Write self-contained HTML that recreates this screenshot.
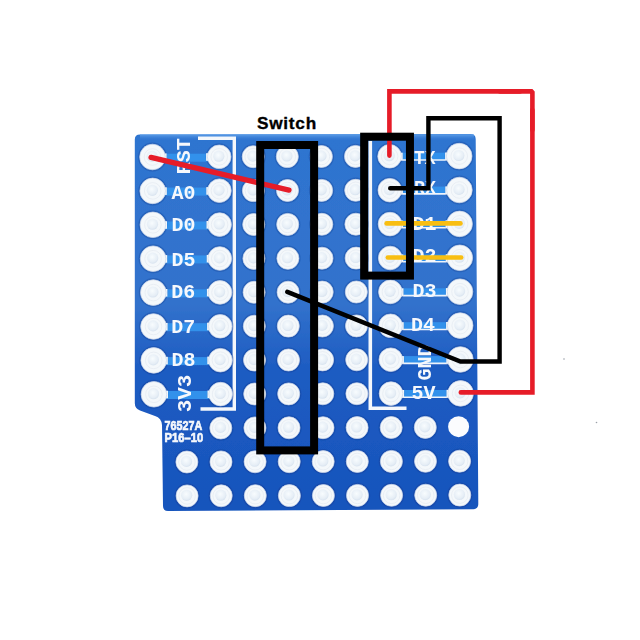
<!DOCTYPE html><html><head><meta charset="utf-8"><style>html,body{margin:0;padding:0;background:#fff;width:640px;height:640px;overflow:hidden}svg{display:block}text{font-family:"Liberation Sans",sans-serif;font-weight:bold}</style></head><body>
<svg width="640" height="640" viewBox="0 0 640 640">
<defs><radialGradient id="hole" cx="0.45" cy="0.4" r="0.6"><stop offset="0" stop-color="#f8fcfe"/><stop offset="0.75" stop-color="#e6eef6"/><stop offset="1" stop-color="#d8e3ef"/></radialGradient><linearGradient id="bg" gradientUnits="userSpaceOnUse" x1="0" y1="134" x2="0" y2="511"><stop offset="0" stop-color="#2e74d0"/><stop offset="0.45" stop-color="#3272cc"/><stop offset="0.62" stop-color="#1e5cc2"/><stop offset="1" stop-color="#1654bc"/></linearGradient><linearGradient id="edge" gradientUnits="userSpaceOnUse" x1="0" y1="134" x2="0" y2="141"><stop offset="0" stop-color="#6aaaf0" stop-opacity="0.9"/><stop offset="1" stop-color="#2e74d0" stop-opacity="0"/></linearGradient><filter id="soft" x="0" y="0" width="1" height="1"><feGaussianBlur stdDeviation="0.45"/></filter></defs>
<rect width="640" height="640" fill="#fff"/>
<g filter="url(#soft)">
<path d="M140 134.5 L470.5 134 Q475.5 134 475.7 139 L478.3 504 Q478.3 509 473.3 509.2 L168 511 Q163 511 163 506 L162 425 Q161.5 418 155 416 L140 410.5 Q134.8 408.5 134.8 403 L134.8 139.5 Q134.8 134.5 140 134.5Z" fill="url(#bg)"/>
<rect x="140" y="134.3" width="334" height="7" fill="url(#edge)"/>
<rect x="151.0" y="153.7" width="68.2" height="8" fill="#3291eb"/>
<rect x="389.6" y="152.7" width="68.2" height="7.5" fill="#3291eb"/>
<line x1="389.6" y1="160.0" x2="457.7" y2="160.0" stroke="#eef4fc" stroke-width="1.6"/>
<rect x="151.2" y="187.6" width="68.2" height="8" fill="#3291eb"/>
<rect x="389.8" y="186.6" width="68.2" height="7.5" fill="#3291eb"/>
<line x1="389.8" y1="193.9" x2="457.9" y2="193.9" stroke="#eef4fc" stroke-width="1.6"/>
<rect x="151.4" y="221.5" width="68.2" height="8" fill="#3291eb"/>
<rect x="390.0" y="220.5" width="68.2" height="7.5" fill="#3291eb"/>
<line x1="390.0" y1="227.8" x2="458.1" y2="227.8" stroke="#eef4fc" stroke-width="1.6"/>
<rect x="151.6" y="255.4" width="68.2" height="8" fill="#3291eb"/>
<rect x="390.2" y="254.4" width="68.2" height="7.5" fill="#3291eb"/>
<line x1="390.2" y1="261.7" x2="458.3" y2="261.7" stroke="#eef4fc" stroke-width="1.6"/>
<rect x="151.8" y="289.3" width="68.2" height="8" fill="#3291eb"/>
<rect x="390.4" y="288.3" width="68.2" height="7.5" fill="#3291eb"/>
<line x1="390.4" y1="295.6" x2="458.5" y2="295.6" stroke="#eef4fc" stroke-width="1.6"/>
<rect x="152.0" y="323.2" width="68.2" height="8" fill="#3291eb"/>
<rect x="390.6" y="322.2" width="68.2" height="7.5" fill="#3291eb"/>
<line x1="390.6" y1="329.5" x2="458.7" y2="329.5" stroke="#eef4fc" stroke-width="1.6"/>
<rect x="152.2" y="357.1" width="68.2" height="8" fill="#3291eb"/>
<rect x="390.8" y="356.1" width="68.2" height="7.5" fill="#3291eb"/>
<line x1="390.8" y1="363.4" x2="458.9" y2="363.4" stroke="#eef4fc" stroke-width="1.6"/>
<rect x="152.4" y="391.0" width="68.2" height="8" fill="#3291eb"/>
<rect x="391.0" y="390.0" width="68.2" height="7.5" fill="#3291eb"/>
<line x1="391.0" y1="397.3" x2="459.1" y2="397.3" stroke="#eef4fc" stroke-width="1.6"/>
<path d="M198 138.2 H234.3 V409 H200.5" fill="none" stroke="#f4f7fb" stroke-width="3.4"/>
<path d="M370.3 141 V408.3 H406.5" fill="none" stroke="#f4f7fb" stroke-width="3.6"/>
<circle cx="152.5" cy="157.0" r="13.7" fill="none" stroke="#0a2a78" stroke-opacity="0.22" stroke-width="1.6"/>
<rect x="160.3" y="153.4" width="6.3" height="7.6" fill="#f4f8fb"/>
<circle cx="152.5" cy="157.0" r="12.8" fill="#f4f8fb" stroke="#cdd6e6" stroke-width="0.7"/>
<circle cx="152.5" cy="157.0" r="8.3" fill="none" stroke="#e4e9f1" stroke-width="0.7"/>
<circle cx="152.1" cy="156.4" r="5.6" fill="url(#hole)"/>
<circle cx="219.2" cy="156.8" r="12.7" fill="none" stroke="#0a2a78" stroke-opacity="0.22" stroke-width="1.6"/>
<rect x="206.1" y="153.2" width="6.3" height="7.6" fill="#f4f8fb"/>
<circle cx="219.2" cy="156.8" r="11.8" fill="#f4f8fb" stroke="#cdd6e6" stroke-width="0.7"/>
<circle cx="219.2" cy="156.8" r="8.3" fill="none" stroke="#e4e9f1" stroke-width="0.7"/>
<circle cx="218.8" cy="156.2" r="5.6" fill="url(#hole)"/>
<circle cx="253.2" cy="156.7" r="11.9" fill="none" stroke="#0a2a78" stroke-opacity="0.22" stroke-width="1.6"/>
<circle cx="253.2" cy="156.7" r="11.0" fill="#f4f8fb" stroke="#cdd6e6" stroke-width="0.7"/>
<circle cx="253.2" cy="156.7" r="8.3" fill="none" stroke="#e4e9f1" stroke-width="0.7"/>
<circle cx="252.8" cy="156.1" r="5.6" fill="url(#hole)"/>
<circle cx="287.3" cy="156.6" r="11.9" fill="none" stroke="#0a2a78" stroke-opacity="0.22" stroke-width="1.6"/>
<circle cx="287.3" cy="156.6" r="11.0" fill="#f4f8fb" stroke="#cdd6e6" stroke-width="0.7"/>
<circle cx="287.3" cy="156.6" r="8.3" fill="none" stroke="#e4e9f1" stroke-width="0.7"/>
<circle cx="286.9" cy="156.0" r="5.6" fill="url(#hole)"/>
<circle cx="321.4" cy="156.5" r="11.9" fill="none" stroke="#0a2a78" stroke-opacity="0.22" stroke-width="1.6"/>
<circle cx="321.4" cy="156.5" r="11.0" fill="#f4f8fb" stroke="#cdd6e6" stroke-width="0.7"/>
<circle cx="321.4" cy="156.5" r="8.3" fill="none" stroke="#e4e9f1" stroke-width="0.7"/>
<circle cx="321.0" cy="155.9" r="5.6" fill="url(#hole)"/>
<circle cx="355.5" cy="156.4" r="11.9" fill="none" stroke="#0a2a78" stroke-opacity="0.22" stroke-width="1.6"/>
<circle cx="355.5" cy="156.4" r="11.0" fill="#f4f8fb" stroke="#cdd6e6" stroke-width="0.7"/>
<circle cx="355.5" cy="156.4" r="8.3" fill="none" stroke="#e4e9f1" stroke-width="0.7"/>
<circle cx="355.1" cy="155.8" r="5.6" fill="url(#hole)"/>
<circle cx="389.6" cy="156.3" r="12.7" fill="none" stroke="#0a2a78" stroke-opacity="0.22" stroke-width="1.6"/>
<rect x="396.4" y="152.7" width="6.3" height="7.6" fill="#f4f8fb"/>
<circle cx="389.6" cy="156.3" r="11.8" fill="#f4f8fb" stroke="#cdd6e6" stroke-width="0.7"/>
<circle cx="389.6" cy="156.3" r="8.3" fill="none" stroke="#e4e9f1" stroke-width="0.7"/>
<circle cx="389.2" cy="155.7" r="5.6" fill="url(#hole)"/>
<circle cx="459.2" cy="156.1" r="13.7" fill="none" stroke="#0a2a78" stroke-opacity="0.22" stroke-width="1.6"/>
<rect x="445.1" y="152.5" width="6.3" height="7.6" fill="#f4f8fb"/>
<circle cx="459.2" cy="156.1" r="12.8" fill="#f4f8fb" stroke="#cdd6e6" stroke-width="0.7"/>
<circle cx="459.2" cy="156.1" r="8.3" fill="none" stroke="#e4e9f1" stroke-width="0.7"/>
<circle cx="458.8" cy="155.5" r="5.6" fill="url(#hole)"/>
<circle cx="152.7" cy="190.9" r="13.7" fill="none" stroke="#0a2a78" stroke-opacity="0.22" stroke-width="1.6"/>
<rect x="160.5" y="187.3" width="6.3" height="7.6" fill="#f4f8fb"/>
<circle cx="152.7" cy="190.9" r="12.8" fill="#f4f8fb" stroke="#cdd6e6" stroke-width="0.7"/>
<circle cx="152.7" cy="190.9" r="8.3" fill="none" stroke="#e4e9f1" stroke-width="0.7"/>
<circle cx="152.3" cy="190.3" r="5.6" fill="url(#hole)"/>
<circle cx="219.4" cy="190.7" r="12.7" fill="none" stroke="#0a2a78" stroke-opacity="0.22" stroke-width="1.6"/>
<rect x="206.3" y="187.1" width="6.3" height="7.6" fill="#f4f8fb"/>
<circle cx="219.4" cy="190.7" r="11.8" fill="#f4f8fb" stroke="#cdd6e6" stroke-width="0.7"/>
<circle cx="219.4" cy="190.7" r="8.3" fill="none" stroke="#e4e9f1" stroke-width="0.7"/>
<circle cx="219.0" cy="190.1" r="5.6" fill="url(#hole)"/>
<circle cx="253.4" cy="190.6" r="11.9" fill="none" stroke="#0a2a78" stroke-opacity="0.22" stroke-width="1.6"/>
<circle cx="253.4" cy="190.6" r="11.0" fill="#f4f8fb" stroke="#cdd6e6" stroke-width="0.7"/>
<circle cx="253.4" cy="190.6" r="8.3" fill="none" stroke="#e4e9f1" stroke-width="0.7"/>
<circle cx="253.0" cy="190.0" r="5.6" fill="url(#hole)"/>
<circle cx="287.5" cy="190.5" r="11.9" fill="none" stroke="#0a2a78" stroke-opacity="0.22" stroke-width="1.6"/>
<circle cx="287.5" cy="190.5" r="11.0" fill="#f4f8fb" stroke="#cdd6e6" stroke-width="0.7"/>
<circle cx="287.5" cy="190.5" r="8.3" fill="none" stroke="#e4e9f1" stroke-width="0.7"/>
<circle cx="287.1" cy="189.9" r="5.6" fill="url(#hole)"/>
<circle cx="321.6" cy="190.4" r="11.9" fill="none" stroke="#0a2a78" stroke-opacity="0.22" stroke-width="1.6"/>
<circle cx="321.6" cy="190.4" r="11.0" fill="#f4f8fb" stroke="#cdd6e6" stroke-width="0.7"/>
<circle cx="321.6" cy="190.4" r="8.3" fill="none" stroke="#e4e9f1" stroke-width="0.7"/>
<circle cx="321.2" cy="189.8" r="5.6" fill="url(#hole)"/>
<circle cx="355.7" cy="190.3" r="11.9" fill="none" stroke="#0a2a78" stroke-opacity="0.22" stroke-width="1.6"/>
<circle cx="355.7" cy="190.3" r="11.0" fill="#f4f8fb" stroke="#cdd6e6" stroke-width="0.7"/>
<circle cx="355.7" cy="190.3" r="8.3" fill="none" stroke="#e4e9f1" stroke-width="0.7"/>
<circle cx="355.3" cy="189.7" r="5.6" fill="url(#hole)"/>
<circle cx="389.8" cy="190.2" r="12.7" fill="none" stroke="#0a2a78" stroke-opacity="0.22" stroke-width="1.6"/>
<rect x="396.6" y="186.6" width="6.3" height="7.6" fill="#f4f8fb"/>
<circle cx="389.8" cy="190.2" r="11.8" fill="#f4f8fb" stroke="#cdd6e6" stroke-width="0.7"/>
<circle cx="389.8" cy="190.2" r="8.3" fill="none" stroke="#e4e9f1" stroke-width="0.7"/>
<circle cx="389.4" cy="189.6" r="5.6" fill="url(#hole)"/>
<circle cx="459.4" cy="190.0" r="13.7" fill="none" stroke="#0a2a78" stroke-opacity="0.22" stroke-width="1.6"/>
<rect x="445.3" y="186.4" width="6.3" height="7.6" fill="#f4f8fb"/>
<circle cx="459.4" cy="190.0" r="12.8" fill="#f4f8fb" stroke="#cdd6e6" stroke-width="0.7"/>
<circle cx="459.4" cy="190.0" r="8.3" fill="none" stroke="#e4e9f1" stroke-width="0.7"/>
<circle cx="459.0" cy="189.4" r="5.6" fill="url(#hole)"/>
<circle cx="152.9" cy="224.8" r="13.7" fill="none" stroke="#0a2a78" stroke-opacity="0.22" stroke-width="1.6"/>
<rect x="160.7" y="221.2" width="6.3" height="7.6" fill="#f4f8fb"/>
<circle cx="152.9" cy="224.8" r="12.8" fill="#f4f8fb" stroke="#cdd6e6" stroke-width="0.7"/>
<circle cx="152.9" cy="224.8" r="8.3" fill="none" stroke="#e4e9f1" stroke-width="0.7"/>
<circle cx="152.5" cy="224.2" r="5.6" fill="url(#hole)"/>
<circle cx="219.6" cy="224.6" r="12.7" fill="none" stroke="#0a2a78" stroke-opacity="0.22" stroke-width="1.6"/>
<rect x="206.5" y="221.0" width="6.3" height="7.6" fill="#f4f8fb"/>
<circle cx="219.6" cy="224.6" r="11.8" fill="#f4f8fb" stroke="#cdd6e6" stroke-width="0.7"/>
<circle cx="219.6" cy="224.6" r="8.3" fill="none" stroke="#e4e9f1" stroke-width="0.7"/>
<circle cx="219.2" cy="224.0" r="5.6" fill="url(#hole)"/>
<circle cx="253.7" cy="224.5" r="11.9" fill="none" stroke="#0a2a78" stroke-opacity="0.22" stroke-width="1.6"/>
<circle cx="253.7" cy="224.5" r="11.0" fill="#f4f8fb" stroke="#cdd6e6" stroke-width="0.7"/>
<circle cx="253.7" cy="224.5" r="8.3" fill="none" stroke="#e4e9f1" stroke-width="0.7"/>
<circle cx="253.3" cy="223.9" r="5.6" fill="url(#hole)"/>
<circle cx="287.7" cy="224.4" r="11.9" fill="none" stroke="#0a2a78" stroke-opacity="0.22" stroke-width="1.6"/>
<circle cx="287.7" cy="224.4" r="11.0" fill="#f4f8fb" stroke="#cdd6e6" stroke-width="0.7"/>
<circle cx="287.7" cy="224.4" r="8.3" fill="none" stroke="#e4e9f1" stroke-width="0.7"/>
<circle cx="287.3" cy="223.8" r="5.6" fill="url(#hole)"/>
<circle cx="321.8" cy="224.3" r="11.9" fill="none" stroke="#0a2a78" stroke-opacity="0.22" stroke-width="1.6"/>
<circle cx="321.8" cy="224.3" r="11.0" fill="#f4f8fb" stroke="#cdd6e6" stroke-width="0.7"/>
<circle cx="321.8" cy="224.3" r="8.3" fill="none" stroke="#e4e9f1" stroke-width="0.7"/>
<circle cx="321.4" cy="223.7" r="5.6" fill="url(#hole)"/>
<circle cx="355.9" cy="224.2" r="11.9" fill="none" stroke="#0a2a78" stroke-opacity="0.22" stroke-width="1.6"/>
<circle cx="355.9" cy="224.2" r="11.0" fill="#f4f8fb" stroke="#cdd6e6" stroke-width="0.7"/>
<circle cx="355.9" cy="224.2" r="8.3" fill="none" stroke="#e4e9f1" stroke-width="0.7"/>
<circle cx="355.5" cy="223.6" r="5.6" fill="url(#hole)"/>
<circle cx="390.0" cy="224.1" r="12.7" fill="none" stroke="#0a2a78" stroke-opacity="0.22" stroke-width="1.6"/>
<rect x="396.8" y="220.5" width="6.3" height="7.6" fill="#f4f8fb"/>
<circle cx="390.0" cy="224.1" r="11.8" fill="#f4f8fb" stroke="#cdd6e6" stroke-width="0.7"/>
<circle cx="390.0" cy="224.1" r="8.3" fill="none" stroke="#e4e9f1" stroke-width="0.7"/>
<circle cx="389.6" cy="223.5" r="5.6" fill="url(#hole)"/>
<circle cx="459.6" cy="223.9" r="13.7" fill="none" stroke="#0a2a78" stroke-opacity="0.22" stroke-width="1.6"/>
<rect x="445.5" y="220.3" width="6.3" height="7.6" fill="#f4f8fb"/>
<circle cx="459.6" cy="223.9" r="12.8" fill="#f4f8fb" stroke="#cdd6e6" stroke-width="0.7"/>
<circle cx="459.6" cy="223.9" r="8.3" fill="none" stroke="#e4e9f1" stroke-width="0.7"/>
<circle cx="459.2" cy="223.3" r="5.6" fill="url(#hole)"/>
<circle cx="153.1" cy="258.7" r="13.7" fill="none" stroke="#0a2a78" stroke-opacity="0.22" stroke-width="1.6"/>
<rect x="160.9" y="255.1" width="6.3" height="7.6" fill="#f4f8fb"/>
<circle cx="153.1" cy="258.7" r="12.8" fill="#f4f8fb" stroke="#cdd6e6" stroke-width="0.7"/>
<circle cx="153.1" cy="258.7" r="8.3" fill="none" stroke="#e4e9f1" stroke-width="0.7"/>
<circle cx="152.7" cy="258.1" r="5.6" fill="url(#hole)"/>
<circle cx="219.8" cy="258.5" r="12.7" fill="none" stroke="#0a2a78" stroke-opacity="0.22" stroke-width="1.6"/>
<rect x="206.7" y="254.9" width="6.3" height="7.6" fill="#f4f8fb"/>
<circle cx="219.8" cy="258.5" r="11.8" fill="#f4f8fb" stroke="#cdd6e6" stroke-width="0.7"/>
<circle cx="219.8" cy="258.5" r="8.3" fill="none" stroke="#e4e9f1" stroke-width="0.7"/>
<circle cx="219.4" cy="257.9" r="5.6" fill="url(#hole)"/>
<circle cx="253.9" cy="258.4" r="11.9" fill="none" stroke="#0a2a78" stroke-opacity="0.22" stroke-width="1.6"/>
<circle cx="253.9" cy="258.4" r="11.0" fill="#f4f8fb" stroke="#cdd6e6" stroke-width="0.7"/>
<circle cx="253.9" cy="258.4" r="8.3" fill="none" stroke="#e4e9f1" stroke-width="0.7"/>
<circle cx="253.5" cy="257.8" r="5.6" fill="url(#hole)"/>
<circle cx="287.9" cy="258.3" r="11.9" fill="none" stroke="#0a2a78" stroke-opacity="0.22" stroke-width="1.6"/>
<circle cx="287.9" cy="258.3" r="11.0" fill="#f4f8fb" stroke="#cdd6e6" stroke-width="0.7"/>
<circle cx="287.9" cy="258.3" r="8.3" fill="none" stroke="#e4e9f1" stroke-width="0.7"/>
<circle cx="287.5" cy="257.7" r="5.6" fill="url(#hole)"/>
<circle cx="322.0" cy="258.2" r="11.9" fill="none" stroke="#0a2a78" stroke-opacity="0.22" stroke-width="1.6"/>
<circle cx="322.0" cy="258.2" r="11.0" fill="#f4f8fb" stroke="#cdd6e6" stroke-width="0.7"/>
<circle cx="322.0" cy="258.2" r="8.3" fill="none" stroke="#e4e9f1" stroke-width="0.7"/>
<circle cx="321.6" cy="257.6" r="5.6" fill="url(#hole)"/>
<circle cx="356.1" cy="258.1" r="11.9" fill="none" stroke="#0a2a78" stroke-opacity="0.22" stroke-width="1.6"/>
<circle cx="356.1" cy="258.1" r="11.0" fill="#f4f8fb" stroke="#cdd6e6" stroke-width="0.7"/>
<circle cx="356.1" cy="258.1" r="8.3" fill="none" stroke="#e4e9f1" stroke-width="0.7"/>
<circle cx="355.7" cy="257.5" r="5.6" fill="url(#hole)"/>
<circle cx="390.2" cy="258.0" r="12.7" fill="none" stroke="#0a2a78" stroke-opacity="0.22" stroke-width="1.6"/>
<rect x="397.0" y="254.4" width="6.3" height="7.6" fill="#f4f8fb"/>
<circle cx="390.2" cy="258.0" r="11.8" fill="#f4f8fb" stroke="#cdd6e6" stroke-width="0.7"/>
<circle cx="390.2" cy="258.0" r="8.3" fill="none" stroke="#e4e9f1" stroke-width="0.7"/>
<circle cx="389.8" cy="257.4" r="5.6" fill="url(#hole)"/>
<circle cx="459.8" cy="257.8" r="13.7" fill="none" stroke="#0a2a78" stroke-opacity="0.22" stroke-width="1.6"/>
<rect x="445.7" y="254.2" width="6.3" height="7.6" fill="#f4f8fb"/>
<circle cx="459.8" cy="257.8" r="12.8" fill="#f4f8fb" stroke="#cdd6e6" stroke-width="0.7"/>
<circle cx="459.8" cy="257.8" r="8.3" fill="none" stroke="#e4e9f1" stroke-width="0.7"/>
<circle cx="459.4" cy="257.2" r="5.6" fill="url(#hole)"/>
<circle cx="153.3" cy="292.6" r="13.7" fill="none" stroke="#0a2a78" stroke-opacity="0.22" stroke-width="1.6"/>
<rect x="161.1" y="289.0" width="6.3" height="7.6" fill="#f4f8fb"/>
<circle cx="153.3" cy="292.6" r="12.8" fill="#f4f8fb" stroke="#cdd6e6" stroke-width="0.7"/>
<circle cx="153.3" cy="292.6" r="8.3" fill="none" stroke="#e4e9f1" stroke-width="0.7"/>
<circle cx="152.9" cy="292.0" r="5.6" fill="url(#hole)"/>
<circle cx="220.0" cy="292.4" r="12.7" fill="none" stroke="#0a2a78" stroke-opacity="0.22" stroke-width="1.6"/>
<rect x="206.9" y="288.8" width="6.3" height="7.6" fill="#f4f8fb"/>
<circle cx="220.0" cy="292.4" r="11.8" fill="#f4f8fb" stroke="#cdd6e6" stroke-width="0.7"/>
<circle cx="220.0" cy="292.4" r="8.3" fill="none" stroke="#e4e9f1" stroke-width="0.7"/>
<circle cx="219.6" cy="291.8" r="5.6" fill="url(#hole)"/>
<circle cx="254.1" cy="292.3" r="11.9" fill="none" stroke="#0a2a78" stroke-opacity="0.22" stroke-width="1.6"/>
<circle cx="254.1" cy="292.3" r="11.0" fill="#f4f8fb" stroke="#cdd6e6" stroke-width="0.7"/>
<circle cx="254.1" cy="292.3" r="8.3" fill="none" stroke="#e4e9f1" stroke-width="0.7"/>
<circle cx="253.7" cy="291.7" r="5.6" fill="url(#hole)"/>
<circle cx="288.1" cy="292.2" r="11.9" fill="none" stroke="#0a2a78" stroke-opacity="0.22" stroke-width="1.6"/>
<circle cx="288.1" cy="292.2" r="11.0" fill="#f4f8fb" stroke="#cdd6e6" stroke-width="0.7"/>
<circle cx="288.1" cy="292.2" r="8.3" fill="none" stroke="#e4e9f1" stroke-width="0.7"/>
<circle cx="287.7" cy="291.6" r="5.6" fill="url(#hole)"/>
<circle cx="322.2" cy="292.1" r="11.9" fill="none" stroke="#0a2a78" stroke-opacity="0.22" stroke-width="1.6"/>
<circle cx="322.2" cy="292.1" r="11.0" fill="#f4f8fb" stroke="#cdd6e6" stroke-width="0.7"/>
<circle cx="322.2" cy="292.1" r="8.3" fill="none" stroke="#e4e9f1" stroke-width="0.7"/>
<circle cx="321.8" cy="291.5" r="5.6" fill="url(#hole)"/>
<circle cx="356.3" cy="292.0" r="11.9" fill="none" stroke="#0a2a78" stroke-opacity="0.22" stroke-width="1.6"/>
<circle cx="356.3" cy="292.0" r="11.0" fill="#f4f8fb" stroke="#cdd6e6" stroke-width="0.7"/>
<circle cx="356.3" cy="292.0" r="8.3" fill="none" stroke="#e4e9f1" stroke-width="0.7"/>
<circle cx="355.9" cy="291.4" r="5.6" fill="url(#hole)"/>
<circle cx="390.4" cy="291.9" r="12.7" fill="none" stroke="#0a2a78" stroke-opacity="0.22" stroke-width="1.6"/>
<rect x="397.2" y="288.3" width="6.3" height="7.6" fill="#f4f8fb"/>
<circle cx="390.4" cy="291.9" r="11.8" fill="#f4f8fb" stroke="#cdd6e6" stroke-width="0.7"/>
<circle cx="390.4" cy="291.9" r="8.3" fill="none" stroke="#e4e9f1" stroke-width="0.7"/>
<circle cx="390.0" cy="291.3" r="5.6" fill="url(#hole)"/>
<circle cx="460.0" cy="291.7" r="13.7" fill="none" stroke="#0a2a78" stroke-opacity="0.22" stroke-width="1.6"/>
<rect x="445.9" y="288.1" width="6.3" height="7.6" fill="#f4f8fb"/>
<circle cx="460.0" cy="291.7" r="12.8" fill="#f4f8fb" stroke="#cdd6e6" stroke-width="0.7"/>
<circle cx="460.0" cy="291.7" r="8.3" fill="none" stroke="#e4e9f1" stroke-width="0.7"/>
<circle cx="459.6" cy="291.1" r="5.6" fill="url(#hole)"/>
<circle cx="153.5" cy="326.5" r="13.7" fill="none" stroke="#0a2a78" stroke-opacity="0.22" stroke-width="1.6"/>
<rect x="161.3" y="322.9" width="6.3" height="7.6" fill="#f4f8fb"/>
<circle cx="153.5" cy="326.5" r="12.8" fill="#f4f8fb" stroke="#cdd6e6" stroke-width="0.7"/>
<circle cx="153.5" cy="326.5" r="8.3" fill="none" stroke="#e4e9f1" stroke-width="0.7"/>
<circle cx="153.1" cy="325.9" r="5.6" fill="url(#hole)"/>
<circle cx="220.2" cy="326.3" r="12.7" fill="none" stroke="#0a2a78" stroke-opacity="0.22" stroke-width="1.6"/>
<rect x="207.1" y="322.7" width="6.3" height="7.6" fill="#f4f8fb"/>
<circle cx="220.2" cy="326.3" r="11.8" fill="#f4f8fb" stroke="#cdd6e6" stroke-width="0.7"/>
<circle cx="220.2" cy="326.3" r="8.3" fill="none" stroke="#e4e9f1" stroke-width="0.7"/>
<circle cx="219.8" cy="325.7" r="5.6" fill="url(#hole)"/>
<circle cx="254.3" cy="326.2" r="11.9" fill="none" stroke="#0a2a78" stroke-opacity="0.22" stroke-width="1.6"/>
<circle cx="254.3" cy="326.2" r="11.0" fill="#f4f8fb" stroke="#cdd6e6" stroke-width="0.7"/>
<circle cx="254.3" cy="326.2" r="8.3" fill="none" stroke="#e4e9f1" stroke-width="0.7"/>
<circle cx="253.9" cy="325.6" r="5.6" fill="url(#hole)"/>
<circle cx="288.3" cy="326.1" r="11.9" fill="none" stroke="#0a2a78" stroke-opacity="0.22" stroke-width="1.6"/>
<circle cx="288.3" cy="326.1" r="11.0" fill="#f4f8fb" stroke="#cdd6e6" stroke-width="0.7"/>
<circle cx="288.3" cy="326.1" r="8.3" fill="none" stroke="#e4e9f1" stroke-width="0.7"/>
<circle cx="287.9" cy="325.5" r="5.6" fill="url(#hole)"/>
<circle cx="322.4" cy="326.0" r="11.9" fill="none" stroke="#0a2a78" stroke-opacity="0.22" stroke-width="1.6"/>
<circle cx="322.4" cy="326.0" r="11.0" fill="#f4f8fb" stroke="#cdd6e6" stroke-width="0.7"/>
<circle cx="322.4" cy="326.0" r="8.3" fill="none" stroke="#e4e9f1" stroke-width="0.7"/>
<circle cx="322.0" cy="325.4" r="5.6" fill="url(#hole)"/>
<circle cx="356.5" cy="325.9" r="11.9" fill="none" stroke="#0a2a78" stroke-opacity="0.22" stroke-width="1.6"/>
<circle cx="356.5" cy="325.9" r="11.0" fill="#f4f8fb" stroke="#cdd6e6" stroke-width="0.7"/>
<circle cx="356.5" cy="325.9" r="8.3" fill="none" stroke="#e4e9f1" stroke-width="0.7"/>
<circle cx="356.1" cy="325.3" r="5.6" fill="url(#hole)"/>
<circle cx="390.6" cy="325.8" r="12.7" fill="none" stroke="#0a2a78" stroke-opacity="0.22" stroke-width="1.6"/>
<rect x="397.4" y="322.2" width="6.3" height="7.6" fill="#f4f8fb"/>
<circle cx="390.6" cy="325.8" r="11.8" fill="#f4f8fb" stroke="#cdd6e6" stroke-width="0.7"/>
<circle cx="390.6" cy="325.8" r="8.3" fill="none" stroke="#e4e9f1" stroke-width="0.7"/>
<circle cx="390.2" cy="325.2" r="5.6" fill="url(#hole)"/>
<circle cx="460.2" cy="325.6" r="13.7" fill="none" stroke="#0a2a78" stroke-opacity="0.22" stroke-width="1.6"/>
<rect x="446.1" y="322.0" width="6.3" height="7.6" fill="#f4f8fb"/>
<circle cx="460.2" cy="325.6" r="12.8" fill="#f4f8fb" stroke="#cdd6e6" stroke-width="0.7"/>
<circle cx="460.2" cy="325.6" r="8.3" fill="none" stroke="#e4e9f1" stroke-width="0.7"/>
<circle cx="459.8" cy="325.0" r="5.6" fill="url(#hole)"/>
<circle cx="153.7" cy="360.4" r="13.7" fill="none" stroke="#0a2a78" stroke-opacity="0.22" stroke-width="1.6"/>
<rect x="161.5" y="356.8" width="6.3" height="7.6" fill="#f4f8fb"/>
<circle cx="153.7" cy="360.4" r="12.8" fill="#f4f8fb" stroke="#cdd6e6" stroke-width="0.7"/>
<circle cx="153.7" cy="360.4" r="8.3" fill="none" stroke="#e4e9f1" stroke-width="0.7"/>
<circle cx="153.3" cy="359.8" r="5.6" fill="url(#hole)"/>
<circle cx="220.4" cy="360.2" r="12.7" fill="none" stroke="#0a2a78" stroke-opacity="0.22" stroke-width="1.6"/>
<rect x="207.3" y="356.6" width="6.3" height="7.6" fill="#f4f8fb"/>
<circle cx="220.4" cy="360.2" r="11.8" fill="#f4f8fb" stroke="#cdd6e6" stroke-width="0.7"/>
<circle cx="220.4" cy="360.2" r="8.3" fill="none" stroke="#e4e9f1" stroke-width="0.7"/>
<circle cx="220.0" cy="359.6" r="5.6" fill="url(#hole)"/>
<circle cx="254.5" cy="360.1" r="11.9" fill="none" stroke="#0a2a78" stroke-opacity="0.22" stroke-width="1.6"/>
<circle cx="254.5" cy="360.1" r="11.0" fill="#f4f8fb" stroke="#cdd6e6" stroke-width="0.7"/>
<circle cx="254.5" cy="360.1" r="8.3" fill="none" stroke="#e4e9f1" stroke-width="0.7"/>
<circle cx="254.1" cy="359.5" r="5.6" fill="url(#hole)"/>
<circle cx="288.5" cy="360.0" r="11.9" fill="none" stroke="#0a2a78" stroke-opacity="0.22" stroke-width="1.6"/>
<circle cx="288.5" cy="360.0" r="11.0" fill="#f4f8fb" stroke="#cdd6e6" stroke-width="0.7"/>
<circle cx="288.5" cy="360.0" r="8.3" fill="none" stroke="#e4e9f1" stroke-width="0.7"/>
<circle cx="288.1" cy="359.4" r="5.6" fill="url(#hole)"/>
<circle cx="322.6" cy="359.9" r="11.9" fill="none" stroke="#0a2a78" stroke-opacity="0.22" stroke-width="1.6"/>
<circle cx="322.6" cy="359.9" r="11.0" fill="#f4f8fb" stroke="#cdd6e6" stroke-width="0.7"/>
<circle cx="322.6" cy="359.9" r="8.3" fill="none" stroke="#e4e9f1" stroke-width="0.7"/>
<circle cx="322.2" cy="359.3" r="5.6" fill="url(#hole)"/>
<circle cx="356.7" cy="359.8" r="11.9" fill="none" stroke="#0a2a78" stroke-opacity="0.22" stroke-width="1.6"/>
<circle cx="356.7" cy="359.8" r="11.0" fill="#f4f8fb" stroke="#cdd6e6" stroke-width="0.7"/>
<circle cx="356.7" cy="359.8" r="8.3" fill="none" stroke="#e4e9f1" stroke-width="0.7"/>
<circle cx="356.3" cy="359.2" r="5.6" fill="url(#hole)"/>
<circle cx="390.8" cy="359.7" r="12.7" fill="none" stroke="#0a2a78" stroke-opacity="0.22" stroke-width="1.6"/>
<rect x="397.6" y="356.1" width="6.3" height="7.6" fill="#f4f8fb"/>
<circle cx="390.8" cy="359.7" r="11.8" fill="#f4f8fb" stroke="#cdd6e6" stroke-width="0.7"/>
<circle cx="390.8" cy="359.7" r="8.3" fill="none" stroke="#e4e9f1" stroke-width="0.7"/>
<circle cx="390.4" cy="359.1" r="5.6" fill="url(#hole)"/>
<circle cx="460.4" cy="359.5" r="13.7" fill="none" stroke="#0a2a78" stroke-opacity="0.22" stroke-width="1.6"/>
<rect x="446.3" y="355.9" width="6.3" height="7.6" fill="#f4f8fb"/>
<circle cx="460.4" cy="359.5" r="12.8" fill="#f4f8fb" stroke="#cdd6e6" stroke-width="0.7"/>
<circle cx="460.4" cy="359.5" r="8.3" fill="none" stroke="#e4e9f1" stroke-width="0.7"/>
<circle cx="460.0" cy="358.9" r="5.6" fill="url(#hole)"/>
<circle cx="153.9" cy="394.3" r="13.7" fill="none" stroke="#0a2a78" stroke-opacity="0.22" stroke-width="1.6"/>
<rect x="161.7" y="390.7" width="6.3" height="7.6" fill="#f4f8fb"/>
<circle cx="153.9" cy="394.3" r="12.8" fill="#f4f8fb" stroke="#cdd6e6" stroke-width="0.7"/>
<circle cx="153.9" cy="394.3" r="8.3" fill="none" stroke="#e4e9f1" stroke-width="0.7"/>
<circle cx="153.5" cy="393.7" r="5.6" fill="url(#hole)"/>
<circle cx="220.6" cy="394.1" r="12.7" fill="none" stroke="#0a2a78" stroke-opacity="0.22" stroke-width="1.6"/>
<rect x="207.5" y="390.5" width="6.3" height="7.6" fill="#f4f8fb"/>
<circle cx="220.6" cy="394.1" r="11.8" fill="#f4f8fb" stroke="#cdd6e6" stroke-width="0.7"/>
<circle cx="220.6" cy="394.1" r="8.3" fill="none" stroke="#e4e9f1" stroke-width="0.7"/>
<circle cx="220.2" cy="393.5" r="5.6" fill="url(#hole)"/>
<circle cx="254.7" cy="394.0" r="11.9" fill="none" stroke="#0a2a78" stroke-opacity="0.22" stroke-width="1.6"/>
<circle cx="254.7" cy="394.0" r="11.0" fill="#f4f8fb" stroke="#cdd6e6" stroke-width="0.7"/>
<circle cx="254.7" cy="394.0" r="8.3" fill="none" stroke="#e4e9f1" stroke-width="0.7"/>
<circle cx="254.3" cy="393.4" r="5.6" fill="url(#hole)"/>
<circle cx="288.7" cy="393.9" r="11.9" fill="none" stroke="#0a2a78" stroke-opacity="0.22" stroke-width="1.6"/>
<circle cx="288.7" cy="393.9" r="11.0" fill="#f4f8fb" stroke="#cdd6e6" stroke-width="0.7"/>
<circle cx="288.7" cy="393.9" r="8.3" fill="none" stroke="#e4e9f1" stroke-width="0.7"/>
<circle cx="288.3" cy="393.3" r="5.6" fill="url(#hole)"/>
<circle cx="322.8" cy="393.8" r="11.9" fill="none" stroke="#0a2a78" stroke-opacity="0.22" stroke-width="1.6"/>
<circle cx="322.8" cy="393.8" r="11.0" fill="#f4f8fb" stroke="#cdd6e6" stroke-width="0.7"/>
<circle cx="322.8" cy="393.8" r="8.3" fill="none" stroke="#e4e9f1" stroke-width="0.7"/>
<circle cx="322.4" cy="393.2" r="5.6" fill="url(#hole)"/>
<circle cx="356.9" cy="393.7" r="11.9" fill="none" stroke="#0a2a78" stroke-opacity="0.22" stroke-width="1.6"/>
<circle cx="356.9" cy="393.7" r="11.0" fill="#f4f8fb" stroke="#cdd6e6" stroke-width="0.7"/>
<circle cx="356.9" cy="393.7" r="8.3" fill="none" stroke="#e4e9f1" stroke-width="0.7"/>
<circle cx="356.5" cy="393.1" r="5.6" fill="url(#hole)"/>
<circle cx="391.0" cy="393.6" r="12.7" fill="none" stroke="#0a2a78" stroke-opacity="0.22" stroke-width="1.6"/>
<rect x="397.8" y="390.0" width="6.3" height="7.6" fill="#f4f8fb"/>
<circle cx="391.0" cy="393.6" r="11.8" fill="#f4f8fb" stroke="#cdd6e6" stroke-width="0.7"/>
<circle cx="391.0" cy="393.6" r="8.3" fill="none" stroke="#e4e9f1" stroke-width="0.7"/>
<circle cx="390.6" cy="393.0" r="5.6" fill="url(#hole)"/>
<circle cx="460.6" cy="393.4" r="13.7" fill="none" stroke="#0a2a78" stroke-opacity="0.22" stroke-width="1.6"/>
<rect x="446.5" y="389.8" width="6.3" height="7.6" fill="#f4f8fb"/>
<circle cx="460.6" cy="393.4" r="12.8" fill="#f4f8fb" stroke="#cdd6e6" stroke-width="0.7"/>
<circle cx="460.6" cy="393.4" r="8.3" fill="none" stroke="#e4e9f1" stroke-width="0.7"/>
<circle cx="460.2" cy="392.8" r="5.6" fill="url(#hole)"/>
<circle cx="220.8" cy="428.0" r="11.9" fill="none" stroke="#0a2a78" stroke-opacity="0.22" stroke-width="1.6"/>
<circle cx="220.8" cy="428.0" r="11.0" fill="#f4f8fb" stroke="#cdd6e6" stroke-width="0.7"/>
<circle cx="220.8" cy="428.0" r="8.3" fill="none" stroke="#e4e9f1" stroke-width="0.7"/>
<circle cx="220.4" cy="427.4" r="5.6" fill="url(#hole)"/>
<circle cx="254.9" cy="427.9" r="11.9" fill="none" stroke="#0a2a78" stroke-opacity="0.22" stroke-width="1.6"/>
<circle cx="254.9" cy="427.9" r="11.0" fill="#f4f8fb" stroke="#cdd6e6" stroke-width="0.7"/>
<circle cx="254.9" cy="427.9" r="8.3" fill="none" stroke="#e4e9f1" stroke-width="0.7"/>
<circle cx="254.5" cy="427.3" r="5.6" fill="url(#hole)"/>
<circle cx="289.0" cy="427.8" r="11.9" fill="none" stroke="#0a2a78" stroke-opacity="0.22" stroke-width="1.6"/>
<circle cx="289.0" cy="427.8" r="11.0" fill="#f4f8fb" stroke="#cdd6e6" stroke-width="0.7"/>
<circle cx="289.0" cy="427.8" r="8.3" fill="none" stroke="#e4e9f1" stroke-width="0.7"/>
<circle cx="288.6" cy="427.2" r="5.6" fill="url(#hole)"/>
<circle cx="323.0" cy="427.7" r="11.9" fill="none" stroke="#0a2a78" stroke-opacity="0.22" stroke-width="1.6"/>
<circle cx="323.0" cy="427.7" r="11.0" fill="#f4f8fb" stroke="#cdd6e6" stroke-width="0.7"/>
<circle cx="323.0" cy="427.7" r="8.3" fill="none" stroke="#e4e9f1" stroke-width="0.7"/>
<circle cx="322.6" cy="427.1" r="5.6" fill="url(#hole)"/>
<circle cx="357.1" cy="427.6" r="11.9" fill="none" stroke="#0a2a78" stroke-opacity="0.22" stroke-width="1.6"/>
<circle cx="357.1" cy="427.6" r="11.0" fill="#f4f8fb" stroke="#cdd6e6" stroke-width="0.7"/>
<circle cx="357.1" cy="427.6" r="8.3" fill="none" stroke="#e4e9f1" stroke-width="0.7"/>
<circle cx="356.7" cy="427.0" r="5.6" fill="url(#hole)"/>
<circle cx="391.2" cy="427.5" r="11.9" fill="none" stroke="#0a2a78" stroke-opacity="0.22" stroke-width="1.6"/>
<circle cx="391.2" cy="427.5" r="11.0" fill="#f4f8fb" stroke="#cdd6e6" stroke-width="0.7"/>
<circle cx="391.2" cy="427.5" r="8.3" fill="none" stroke="#e4e9f1" stroke-width="0.7"/>
<circle cx="390.8" cy="426.9" r="5.6" fill="url(#hole)"/>
<circle cx="425.3" cy="427.4" r="11.9" fill="none" stroke="#0a2a78" stroke-opacity="0.22" stroke-width="1.6"/>
<circle cx="425.3" cy="427.4" r="11.0" fill="#f4f8fb" stroke="#cdd6e6" stroke-width="0.7"/>
<circle cx="425.3" cy="427.4" r="8.3" fill="none" stroke="#e4e9f1" stroke-width="0.7"/>
<circle cx="424.9" cy="426.8" r="5.6" fill="url(#hole)"/>
<circle cx="458.6" cy="426.7" r="10.5" fill="#fbfcfe"/>
<circle cx="186.9" cy="462.0" r="11.9" fill="none" stroke="#0a2a78" stroke-opacity="0.22" stroke-width="1.6"/>
<circle cx="186.9" cy="462.0" r="11.0" fill="#f4f8fb" stroke="#cdd6e6" stroke-width="0.7"/>
<circle cx="186.9" cy="462.0" r="8.3" fill="none" stroke="#e4e9f1" stroke-width="0.7"/>
<circle cx="186.5" cy="461.4" r="5.6" fill="url(#hole)"/>
<circle cx="221.0" cy="461.9" r="11.9" fill="none" stroke="#0a2a78" stroke-opacity="0.22" stroke-width="1.6"/>
<circle cx="221.0" cy="461.9" r="11.0" fill="#f4f8fb" stroke="#cdd6e6" stroke-width="0.7"/>
<circle cx="221.0" cy="461.9" r="8.3" fill="none" stroke="#e4e9f1" stroke-width="0.7"/>
<circle cx="220.6" cy="461.3" r="5.6" fill="url(#hole)"/>
<circle cx="255.1" cy="461.8" r="11.9" fill="none" stroke="#0a2a78" stroke-opacity="0.22" stroke-width="1.6"/>
<circle cx="255.1" cy="461.8" r="11.0" fill="#f4f8fb" stroke="#cdd6e6" stroke-width="0.7"/>
<circle cx="255.1" cy="461.8" r="8.3" fill="none" stroke="#e4e9f1" stroke-width="0.7"/>
<circle cx="254.7" cy="461.2" r="5.6" fill="url(#hole)"/>
<circle cx="289.2" cy="461.7" r="11.9" fill="none" stroke="#0a2a78" stroke-opacity="0.22" stroke-width="1.6"/>
<circle cx="289.2" cy="461.7" r="11.0" fill="#f4f8fb" stroke="#cdd6e6" stroke-width="0.7"/>
<circle cx="289.2" cy="461.7" r="8.3" fill="none" stroke="#e4e9f1" stroke-width="0.7"/>
<circle cx="288.8" cy="461.1" r="5.6" fill="url(#hole)"/>
<circle cx="323.2" cy="461.6" r="11.9" fill="none" stroke="#0a2a78" stroke-opacity="0.22" stroke-width="1.6"/>
<circle cx="323.2" cy="461.6" r="11.0" fill="#f4f8fb" stroke="#cdd6e6" stroke-width="0.7"/>
<circle cx="323.2" cy="461.6" r="8.3" fill="none" stroke="#e4e9f1" stroke-width="0.7"/>
<circle cx="322.8" cy="461.0" r="5.6" fill="url(#hole)"/>
<circle cx="357.3" cy="461.5" r="11.9" fill="none" stroke="#0a2a78" stroke-opacity="0.22" stroke-width="1.6"/>
<circle cx="357.3" cy="461.5" r="11.0" fill="#f4f8fb" stroke="#cdd6e6" stroke-width="0.7"/>
<circle cx="357.3" cy="461.5" r="8.3" fill="none" stroke="#e4e9f1" stroke-width="0.7"/>
<circle cx="356.9" cy="460.9" r="5.6" fill="url(#hole)"/>
<circle cx="391.4" cy="461.4" r="11.9" fill="none" stroke="#0a2a78" stroke-opacity="0.22" stroke-width="1.6"/>
<circle cx="391.4" cy="461.4" r="11.0" fill="#f4f8fb" stroke="#cdd6e6" stroke-width="0.7"/>
<circle cx="391.4" cy="461.4" r="8.3" fill="none" stroke="#e4e9f1" stroke-width="0.7"/>
<circle cx="391.0" cy="460.8" r="5.6" fill="url(#hole)"/>
<circle cx="425.5" cy="461.3" r="11.9" fill="none" stroke="#0a2a78" stroke-opacity="0.22" stroke-width="1.6"/>
<circle cx="425.5" cy="461.3" r="11.0" fill="#f4f8fb" stroke="#cdd6e6" stroke-width="0.7"/>
<circle cx="425.5" cy="461.3" r="8.3" fill="none" stroke="#e4e9f1" stroke-width="0.7"/>
<circle cx="425.1" cy="460.7" r="5.6" fill="url(#hole)"/>
<circle cx="459.6" cy="461.2" r="11.9" fill="none" stroke="#0a2a78" stroke-opacity="0.22" stroke-width="1.6"/>
<circle cx="459.6" cy="461.2" r="11.0" fill="#f4f8fb" stroke="#cdd6e6" stroke-width="0.7"/>
<circle cx="459.6" cy="461.2" r="8.3" fill="none" stroke="#e4e9f1" stroke-width="0.7"/>
<circle cx="459.2" cy="460.6" r="5.6" fill="url(#hole)"/>
<circle cx="187.1" cy="495.9" r="11.9" fill="none" stroke="#0a2a78" stroke-opacity="0.22" stroke-width="1.6"/>
<circle cx="187.1" cy="495.9" r="11.0" fill="#f4f8fb" stroke="#cdd6e6" stroke-width="0.7"/>
<circle cx="187.1" cy="495.9" r="8.3" fill="none" stroke="#e4e9f1" stroke-width="0.7"/>
<circle cx="186.7" cy="495.3" r="5.6" fill="url(#hole)"/>
<circle cx="221.2" cy="495.8" r="11.9" fill="none" stroke="#0a2a78" stroke-opacity="0.22" stroke-width="1.6"/>
<circle cx="221.2" cy="495.8" r="11.0" fill="#f4f8fb" stroke="#cdd6e6" stroke-width="0.7"/>
<circle cx="221.2" cy="495.8" r="8.3" fill="none" stroke="#e4e9f1" stroke-width="0.7"/>
<circle cx="220.8" cy="495.2" r="5.6" fill="url(#hole)"/>
<circle cx="255.3" cy="495.7" r="11.9" fill="none" stroke="#0a2a78" stroke-opacity="0.22" stroke-width="1.6"/>
<circle cx="255.3" cy="495.7" r="11.0" fill="#f4f8fb" stroke="#cdd6e6" stroke-width="0.7"/>
<circle cx="255.3" cy="495.7" r="8.3" fill="none" stroke="#e4e9f1" stroke-width="0.7"/>
<circle cx="254.9" cy="495.1" r="5.6" fill="url(#hole)"/>
<circle cx="289.4" cy="495.6" r="11.9" fill="none" stroke="#0a2a78" stroke-opacity="0.22" stroke-width="1.6"/>
<circle cx="289.4" cy="495.6" r="11.0" fill="#f4f8fb" stroke="#cdd6e6" stroke-width="0.7"/>
<circle cx="289.4" cy="495.6" r="8.3" fill="none" stroke="#e4e9f1" stroke-width="0.7"/>
<circle cx="289.0" cy="495.0" r="5.6" fill="url(#hole)"/>
<circle cx="323.4" cy="495.5" r="11.9" fill="none" stroke="#0a2a78" stroke-opacity="0.22" stroke-width="1.6"/>
<circle cx="323.4" cy="495.5" r="11.0" fill="#f4f8fb" stroke="#cdd6e6" stroke-width="0.7"/>
<circle cx="323.4" cy="495.5" r="8.3" fill="none" stroke="#e4e9f1" stroke-width="0.7"/>
<circle cx="323.0" cy="494.9" r="5.6" fill="url(#hole)"/>
<circle cx="357.5" cy="495.4" r="11.9" fill="none" stroke="#0a2a78" stroke-opacity="0.22" stroke-width="1.6"/>
<circle cx="357.5" cy="495.4" r="11.0" fill="#f4f8fb" stroke="#cdd6e6" stroke-width="0.7"/>
<circle cx="357.5" cy="495.4" r="8.3" fill="none" stroke="#e4e9f1" stroke-width="0.7"/>
<circle cx="357.1" cy="494.8" r="5.6" fill="url(#hole)"/>
<circle cx="391.6" cy="495.3" r="11.9" fill="none" stroke="#0a2a78" stroke-opacity="0.22" stroke-width="1.6"/>
<circle cx="391.6" cy="495.3" r="11.0" fill="#f4f8fb" stroke="#cdd6e6" stroke-width="0.7"/>
<circle cx="391.6" cy="495.3" r="8.3" fill="none" stroke="#e4e9f1" stroke-width="0.7"/>
<circle cx="391.2" cy="494.7" r="5.6" fill="url(#hole)"/>
<circle cx="425.7" cy="495.2" r="11.9" fill="none" stroke="#0a2a78" stroke-opacity="0.22" stroke-width="1.6"/>
<circle cx="425.7" cy="495.2" r="11.0" fill="#f4f8fb" stroke="#cdd6e6" stroke-width="0.7"/>
<circle cx="425.7" cy="495.2" r="8.3" fill="none" stroke="#e4e9f1" stroke-width="0.7"/>
<circle cx="425.3" cy="494.6" r="5.6" fill="url(#hole)"/>
<circle cx="459.8" cy="495.1" r="11.9" fill="none" stroke="#0a2a78" stroke-opacity="0.22" stroke-width="1.6"/>
<circle cx="459.8" cy="495.1" r="11.0" fill="#f4f8fb" stroke="#cdd6e6" stroke-width="0.7"/>
<circle cx="459.8" cy="495.1" r="8.3" fill="none" stroke="#e4e9f1" stroke-width="0.7"/>
<circle cx="459.4" cy="494.5" r="5.6" fill="url(#hole)"/>
<text style="font-family:'Liberation Mono'" font-size="20.5" fill="#f6f8fc" text-anchor="middle" textLength="36" lengthAdjust="spacingAndGlyphs" transform="translate(183.40,156.20) rotate(-90) translate(0,7.07)">RST</text>
<text x="183.50" y="198.93" style="font-family:'Liberation Mono'" font-size="19.5" fill="#f6f8fc" text-anchor="middle" textLength="24" lengthAdjust="spacingAndGlyphs">A0</text>
<text x="183.50" y="231.33" style="font-family:'Liberation Mono'" font-size="19.5" fill="#f6f8fc" text-anchor="middle" textLength="24" lengthAdjust="spacingAndGlyphs">D0</text>
<text x="183.50" y="265.73" style="font-family:'Liberation Mono'" font-size="19.5" fill="#f6f8fc" text-anchor="middle" textLength="24" lengthAdjust="spacingAndGlyphs">D5</text>
<text x="183.20" y="298.23" style="font-family:'Liberation Mono'" font-size="19.5" fill="#f6f8fc" text-anchor="middle" textLength="24" lengthAdjust="spacingAndGlyphs">D6</text>
<text x="183.20" y="332.73" style="font-family:'Liberation Mono'" font-size="19.5" fill="#f6f8fc" text-anchor="middle" textLength="24" lengthAdjust="spacingAndGlyphs">D7</text>
<text x="183.50" y="365.73" style="font-family:'Liberation Mono'" font-size="19.5" fill="#f6f8fc" text-anchor="middle" textLength="24" lengthAdjust="spacingAndGlyphs">D8</text>
<text style="font-family:'Liberation Mono'" font-size="20.5" fill="#f6f8fc" text-anchor="middle" textLength="37.5" lengthAdjust="spacingAndGlyphs" transform="translate(183.70,393.50) rotate(-90) translate(0,7.07)">3V3</text>
<text x="424.80" y="163.73" style="font-family:'Liberation Mono'" font-size="19.5" fill="#f6f8fc" text-anchor="middle" textLength="21.5" lengthAdjust="spacingAndGlyphs">TX</text>
<text x="425.00" y="194.13" style="font-family:'Liberation Mono'" font-size="19.5" fill="#f6f8fc" text-anchor="middle" textLength="22.0" lengthAdjust="spacingAndGlyphs">RX</text>
<text x="424.50" y="229.73" style="font-family:'Liberation Mono'" font-size="19.5" fill="#f6f8fc" text-anchor="middle" textLength="24" lengthAdjust="spacingAndGlyphs">D1</text>
<text x="424.50" y="262.03" style="font-family:'Liberation Mono'" font-size="19.5" fill="#f6f8fc" text-anchor="middle" textLength="24" lengthAdjust="spacingAndGlyphs">D2</text>
<text x="424.50" y="297.03" style="font-family:'Liberation Mono'" font-size="19.5" fill="#f6f8fc" text-anchor="middle" textLength="24" lengthAdjust="spacingAndGlyphs">D3</text>
<text x="423.00" y="331.43" style="font-family:'Liberation Mono'" font-size="19.5" fill="#f6f8fc" text-anchor="middle" textLength="24" lengthAdjust="spacingAndGlyphs">D4</text>
<text style="font-family:'Liberation Mono'" font-size="19.5" fill="#f6f8fc" text-anchor="middle" textLength="36" lengthAdjust="spacingAndGlyphs" transform="translate(424.30,362.50) rotate(-90) translate(0,6.73)">GND</text>
<text x="423.50" y="398.63" style="font-family:'Liberation Mono'" font-size="19.5" fill="#f6f8fc" text-anchor="middle" textLength="24" lengthAdjust="spacingAndGlyphs">5V</text>
<text x="164.6" y="430.4" font-size="13.4" fill="#f6f8fc" stroke="#f6f8fc" stroke-width="0.7" textLength="37.6" lengthAdjust="spacingAndGlyphs">76527A</text>
<text x="164.6" y="441.8" font-size="13.4" fill="#f6f8fc" stroke="#f6f8fc" stroke-width="0.7" textLength="38.6" lengthAdjust="spacingAndGlyphs">P16&#8211;10</text>
</g>
<line x1="386.6" y1="223.4" x2="460.5" y2="223.4" stroke="#f8be12" stroke-width="4.6" stroke-linecap="round"/>
<line x1="387.8" y1="257.5" x2="461.2" y2="257.5" stroke="#f8be12" stroke-width="4.6" stroke-linecap="round"/>
<line x1="151" y1="157.4" x2="289" y2="190.1" stroke="#e61c28" stroke-width="5.2" stroke-linecap="round"/>
<polyline points="389.4,155.6 389.4,91.4 520,91.4" fill="none" stroke="#e61c28" stroke-width="4.6" stroke-linecap="round" stroke-linejoin="miter"/>
<polyline points="500,91.4 532.4,91.4 532.4,130" fill="none" stroke="#e61c28" stroke-width="4.6" stroke-linecap="round" stroke-linejoin="bevel"/>
<polyline points="532.4,110 532.4,392.4 460.8,392.4" fill="none" stroke="#e61c28" stroke-width="4.6" stroke-linecap="round" stroke-linejoin="miter"/>
<rect x="260.2" y="145" width="53.9" height="305.4" fill="none" stroke="#000" stroke-width="8"/>
<rect x="364.15" y="136.7" width="45.8" height="138.9" fill="none" stroke="#000" stroke-width="8"/>
<polyline points="390.2,188.3 428.4,188.3 428.4,118.3 499.6,118.3 499.6,361.5 460.5,361.5 287.3,291.9" fill="none" stroke="#000" stroke-width="4.4" stroke-linecap="round" stroke-linejoin="miter"/>
<circle cx="564" cy="359" r="0.8" fill="#9aa0a8"/><circle cx="596.5" cy="422.5" r="0.8" fill="#9aa0a8"/>
<text x="257" y="128.7" font-size="17.2" fill="#000" stroke="#000" stroke-width="0.35" letter-spacing="0.75">Switch</text>
</svg></body></html>
